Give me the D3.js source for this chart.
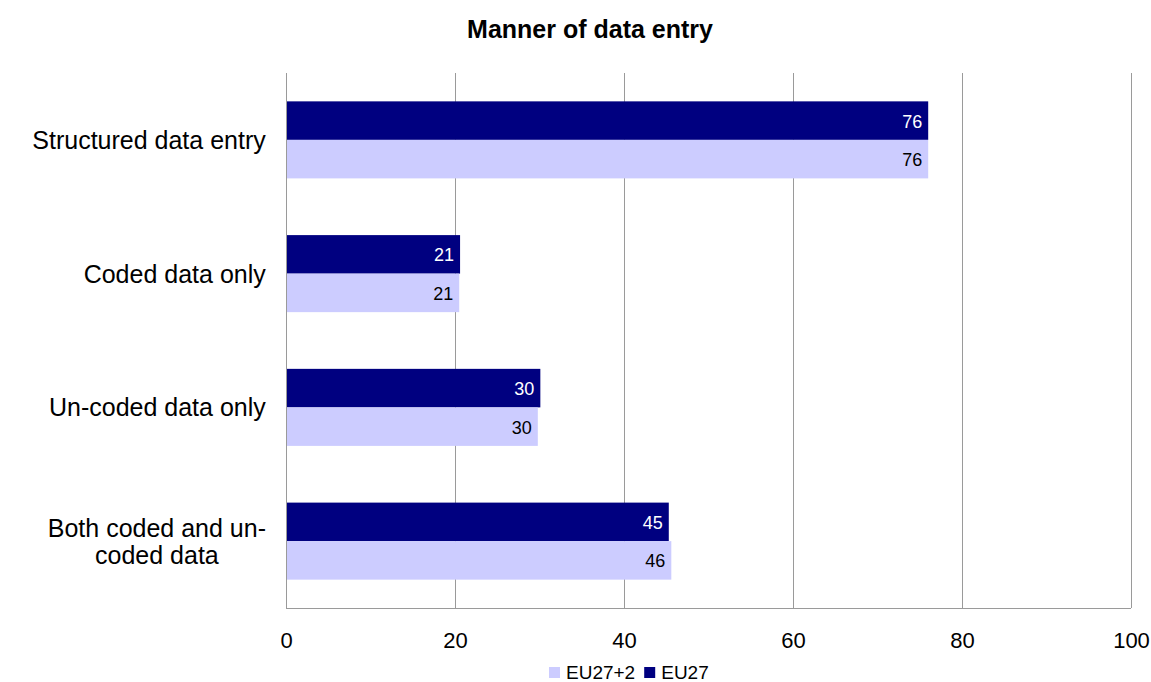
<!DOCTYPE html>
<html>
<head>
<meta charset="utf-8">
<script src="https://cdn.jsdelivr.net/npm/d3@7/dist/d3.min.js"></script>
<style>
  html, body { margin: 0; padding: 0; background: #fff; }
  svg { display: block; font-family: "Liberation Sans", Arial, sans-serif; }
</style>
</head>
<body>
<svg id="chart" width="1151" height="682"></svg>
<script>
// Chart data
const categories = ["Structured data entry", "Coded data only", "Un-coded data only", "Both coded and un-\ncoded data"];
const seriesNames = ["EU27", "EU27+2"];
const eu27Values = [76, 20.6, 30.1, 45.3];
const eu27plus2Values = [76, 20.5, 29.8, 45.6];
const tickValues = [0, 20, 40, 60, 80, 100];
const seriesColors = ["#000080", "#CCCCFF"];
const labelColors = ["#ffffff", "#000000"];
const chartTitle = "Manner of data entry";

const svg = d3.select("#chart");
const margin = { left: 286, top: 73 };
const plotRight = 1131, plotBottom = 608;

const x = d3.scaleLinear().domain([0, 100]).range([margin.left, plotRight]);
const y = d3.scaleBand().domain(categories).range([margin.top, plotBottom]).paddingInner(0.424).paddingOuter(0.212);
const ySub = d3.scaleBand().domain(seriesNames).range([0, y.bandwidth()]);

const rows = categories.map((c, i) => ({ cat: c, values: [eu27Values[i], eu27plus2Values[i]] }));

// Title
svg.append("text")
  .attr("x", 590).attr("y", 38)
  .attr("text-anchor", "middle")
  .attr("font-weight", "bold").attr("font-size", 25)
  .text(chartTitle);

// Vertical gridlines
svg.append("g").selectAll("line")
  .data(tickValues.filter(t => t > 0))
  .join("line")
  .attr("x1", d => x(d)).attr("x2", d => x(d))
  .attr("y1", margin.top).attr("y2", plotBottom)
  .attr("stroke", "#9a9a9a").attr("stroke-width", 1)
  .attr("shape-rendering", "crispEdges");

// Bottom axis line
svg.append("line")
  .attr("x1", x(0)).attr("x2", x(100))
  .attr("y1", plotBottom + 0.5).attr("y2", plotBottom + 0.5)
  .attr("stroke", "#9a9a9a");

// Tick labels
const xAxis = d3.axisBottom(x).tickValues(tickValues).tickSize(0).tickPadding(0).tickFormat(d3.format("d"));
const gx = svg.append("g").attr("transform", `translate(0,${plotBottom + 40})`).call(xAxis);
gx.select(".domain").remove();
gx.selectAll("text").attr("font-size", 22).attr("font-family", "Liberation Sans, Arial, sans-serif").attr("fill", "#000").attr("dy", 0);

// Bars
const groups = svg.append("g").selectAll("g")
  .data(rows).join("g")
  .attr("transform", d => `translate(0,${y(d.cat)})`);

groups.selectAll("rect")
  .data(d => d.values.map((v, k) => ({ v, k })))
  .join("rect")
  .attr("x", x(0))
  .attr("y", d => ySub(seriesNames[d.k]))
  .attr("width", d => x(d.v) - x(0))
  .attr("height", ySub.bandwidth())
  .attr("fill", d => seriesColors[d.k]);

// Value labels
groups.selectAll("text")
  .data(d => d.values.map((v, k) => ({ v, k })))
  .join("text")
  .attr("x", d => x(d.v) - 6)
  .attr("y", d => ySub(seriesNames[d.k]) + ySub.bandwidth() / 2 + 7)
  .attr("text-anchor", "end")
  .attr("font-size", 18)
  .attr("fill", d => labelColors[d.k])
  .text(d => d3.format(".0f")(d.v));

// Left axis line
svg.append("line")
  .attr("x1", x(0) + 0.5).attr("x2", x(0) + 0.5)
  .attr("y1", margin.top).attr("y2", plotBottom)
  .attr("stroke", "#9a9a9a");

// Category labels (multi-line labels are centred as a block, right edge at the anchor)
const catG = svg.append("g");
rows.forEach(r => {
  const lines = r.cat.split("\n");
  const cy = y(r.cat) + y.bandwidth() / 2;
  const t = catG.append("text").attr("font-size", 25).attr("text-anchor", "middle");
  const lh = 27;
  lines.forEach((ln, i) => {
    t.append("tspan").attr("x", 0).attr("y", cy + (i - (lines.length - 1) / 2) * lh + 9).text(ln);
  });
  const w = t.node().getBBox().width;
  t.attr("transform", `translate(${266 - w / 2},0)`);
});

// Legend
const legendItems = [
  { name: "EU27+2", color: seriesColors[1] },
  { name: "EU27", color: seriesColors[0] }
];
const lg = svg.append("g").attr("transform", "translate(549,667)");
let lx = 0;
legendItems.forEach(it => {
  lg.append("rect").attr("x", lx).attr("y", 0).attr("width", 11).attr("height", 11).attr("fill", it.color);
  const t = lg.append("text").attr("x", lx + 17).attr("y", 12).attr("font-size", 19).text(it.name);
  lx += 17 + t.node().getComputedTextLength() + 9;
});
</script>
</body>
</html>
